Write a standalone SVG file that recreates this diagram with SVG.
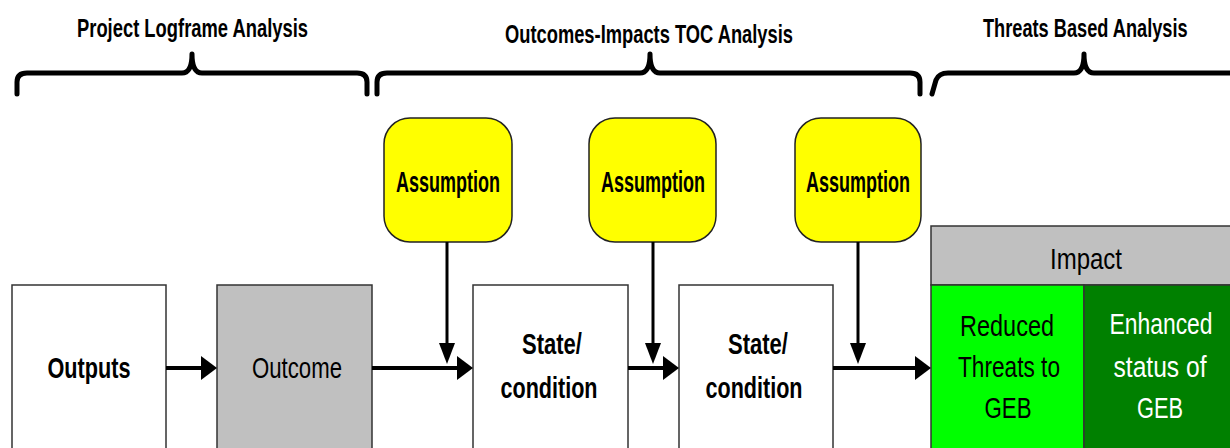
<svg xmlns="http://www.w3.org/2000/svg" width="1230" height="448" viewBox="0 0 1230 448">
  <style>
    .hdr { font-family: "Liberation Sans", Arial, sans-serif; font-weight: bold; font-size: 26px; fill: #000; }
    .brace { fill: none; stroke: #000; stroke-width: 5; stroke-linecap: round; stroke-linejoin: round; }
    .box { fill: #fff; stroke: #333; stroke-width: 1.5; }
    .grey { fill: #c0c0c0; stroke: #333; stroke-width: 1.5; }
    .assump { fill: #ffff00; stroke: #222; stroke-width: 1.5; }
    .lbl { font-family: "Liberation Sans", Arial, sans-serif; font-weight: bold; font-size: 30px; fill: #000; text-anchor: middle; }
    .reg { font-weight: normal; }
    .wht { fill: #fff; }
    .hline { stroke: #000; stroke-width: 4; fill: none; }
    .vline { stroke: #000; stroke-width: 3; fill: none; }
  </style>
  <defs>
    <marker id="ah" markerUnits="userSpaceOnUse" markerWidth="16" markerHeight="24" refX="2" refY="12" orient="auto">
      <path d="M0,0 L16,12 L0,24 Z" fill="#000"/>
    </marker>
    <marker id="av" markerUnits="userSpaceOnUse" markerWidth="21" markerHeight="16" refX="2" refY="8" orient="auto">
      <path d="M0,0 L21,8 L0,16 Z" fill="#000"/>
    </marker>
  </defs>

  <g id="headers">
    <text class="hdr" x="77" y="37" textLength="231" lengthAdjust="spacingAndGlyphs">Project Logframe Analysis</text>
    <text class="hdr" x="505" y="43" textLength="288" lengthAdjust="spacingAndGlyphs">Outcomes-Impacts TOC Analysis</text>
    <text class="hdr" transform="translate(983,37) scale(0.70,1)" x="0" y="0">Threats Based Analysis</text>
  </g>

  <g id="braces">
    <path class="brace" d="M17,94 L17,82 Q17,73 27,73 L182,73 Q192,73 192,54 Q192,73 202,73 L357,73 Q367,73 367,82 L367,94"/>
    <path class="brace" d="M377,94 L377,82 Q377,73 387,73 L640,73 Q650,73 650,54 Q650,73 660,73 L910,73 Q920,73 920,82 L920,94"/>
    <path class="brace" d="M932,94 L936,80 Q939,73 948,73 L1074,73 Q1084,73 1084,54 Q1084,73 1094,73 L1240,73"/>
  </g>

  <g id="outputs">
    <rect class="box" x="12" y="285" width="154" height="175"/>
    <text class="lbl" x="89" y="378" font-size="33" textLength="83" lengthAdjust="spacingAndGlyphs">Outputs</text>
  </g>

  <g id="outcome">
    <rect class="grey" x="217" y="285" width="155" height="175"/>
    <text class="lbl reg" x="297" y="378" font-size="32" textLength="90" lengthAdjust="spacingAndGlyphs">Outcome</text>
  </g>

  <g id="state1">
    <rect class="box" x="473" y="285" width="155" height="175"/>
    <text class="lbl" x="552" y="354" textLength="60" lengthAdjust="spacingAndGlyphs">State/</text>
    <text class="lbl" x="549" y="398" textLength="97" lengthAdjust="spacingAndGlyphs">condition</text>
  </g>

  <g id="state2">
    <rect class="box" x="679" y="285" width="154" height="175"/>
    <text class="lbl" x="758" y="354" textLength="60" lengthAdjust="spacingAndGlyphs">State/</text>
    <text class="lbl" x="754" y="398" textLength="97" lengthAdjust="spacingAndGlyphs">condition</text>
  </g>

  <g id="assumption1">
    <rect class="assump" x="384" y="118" width="128" height="124" rx="26" ry="26"/>
    <text class="lbl" x="448" y="192" font-size="28" textLength="104" lengthAdjust="spacingAndGlyphs">Assumption</text>
  </g>
  <g id="assumption2">
    <rect class="assump" x="589" y="118" width="127" height="124" rx="26" ry="26"/>
    <text class="lbl" x="653" y="192" font-size="28" textLength="104" lengthAdjust="spacingAndGlyphs">Assumption</text>
  </g>
  <g id="assumption3">
    <rect class="assump" x="795" y="118" width="126" height="124" rx="26" ry="26"/>
    <text class="lbl" x="858" y="192" font-size="28" textLength="104" lengthAdjust="spacingAndGlyphs">Assumption</text>
  </g>

  <g id="impact">
    <rect class="grey" x="931" y="226" width="310" height="59"/>
    <text class="lbl reg" x="1086" y="269" font-size="31" textLength="72" lengthAdjust="spacingAndGlyphs">Impact</text>
    <rect x="931" y="285" width="153" height="175" fill="#00ff00" stroke="#333" stroke-width="1.5"/>
    <rect x="1084" y="285" width="157" height="175" fill="#008000" stroke="#333" stroke-width="1.5"/>
    <text class="lbl reg" x="1007" y="336" textLength="94" lengthAdjust="spacingAndGlyphs">Reduced</text>
    <text class="lbl reg" x="1009" y="377" textLength="102" lengthAdjust="spacingAndGlyphs">Threats to</text>
    <text class="lbl reg" x="1008" y="418" textLength="47" lengthAdjust="spacingAndGlyphs">GEB</text>
    <text class="lbl reg wht" transform="translate(1161,334) scale(0.763,1)" x="0" y="0">Enhanced</text>
    <text class="lbl reg wht" x="1160" y="377" textLength="93" lengthAdjust="spacingAndGlyphs">status of</text>
    <text class="lbl reg wht" x="1160" y="418" textLength="46" lengthAdjust="spacingAndGlyphs">GEB</text>
  </g>

  <g id="connectors">
    <line class="hline" x1="166" y1="368" x2="203" y2="368" marker-end="url(#ah)"/>
    <line class="hline" x1="372" y1="368" x2="459" y2="368" marker-end="url(#ah)"/>
    <line class="hline" x1="628" y1="368" x2="665" y2="368" marker-end="url(#ah)"/>
    <line class="hline" x1="833" y1="368" x2="917" y2="368" marker-end="url(#ah)"/>
    <line class="vline" x1="447" y1="242" x2="447" y2="345" marker-end="url(#av)"/>
    <line class="vline" x1="653" y1="242" x2="653" y2="345" marker-end="url(#av)"/>
    <line class="vline" x1="858" y1="242" x2="858" y2="345" marker-end="url(#av)"/>
  </g>
</svg>
